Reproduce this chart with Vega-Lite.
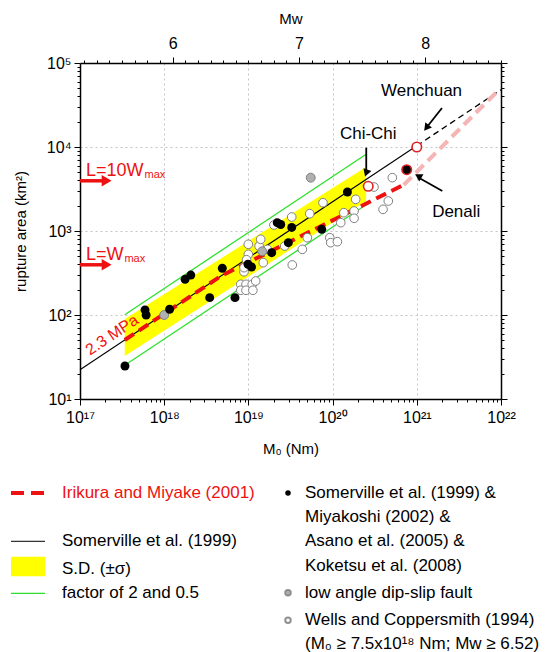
{
"$schema": "https://vega.github.io/schema/vega-lite/v6.json",
"background": "white",
"padding": {"left": 3, "top": 11, "right": 5, "bottom": 0},
"spacing": 23,
"config": {
  "font": "Liberation Sans",
  "view": {"stroke": null},
  "axis": {"labelFont": "Liberation Sans", "titleFont": "Liberation Sans", "labelColor": "black", "titleColor": "black", "domainColor": "black", "domainWidth": 1.5, "tickColor": "black", "tickWidth": 1, "titleFontWeight": "normal", "labelFontSize": 16, "titleFontSize": 15, "grid": false, "labelOverlap": false, "labelFlush": false}
},
"datasets": {
  "pts": [
    {"g":"o","m0":8.11e18,"area":232},{"g":"o","m0":9.36e18,"area":232},{"g":"o","m0":1.11e19,"area":232},
    {"g":"o","m0":8.11e18,"area":197},{"g":"o","m0":9.36e18,"area":197},{"g":"o","m0":1.13e19,"area":197},
    {"g":"o","m0":8.87e18,"area":327},{"g":"o","m0":9.98e18,"area":695},{"g":"o","m0":1.34e19,"area":662},
    {"g":"o","m0":1.40e19,"area":796},{"g":"o","m0":9.98e18,"area":528},{"g":"o","m0":1.50e19,"area":420},
    {"g":"o","m0":1.68e19,"area":605},{"g":"o","m0":1.22e19,"area":254},{"g":"o","m0":3.32e19,"area":394},
    {"g":"o","m0":4.37e19,"area":605},{"g":"o","m0":2.70e19,"area":662},{"g":"o","m0":5.01e19,"area":832},
    {"g":"o","m0":9.25e19,"area":832},{"g":"o","m0":9.49e19,"area":726},{"g":"o","m0":1.14e20,"area":746},
    {"g":"o","m0":7.69e19,"area":2173},{"g":"o","m0":5.35e19,"area":1607},{"g":"o","m0":3.27e19,"area":1468},
    {"g":"o","m0":2.01e19,"area":1179},{"g":"o","m0":1.88e20,"area":2382},{"g":"o","m0":1.36e20,"area":1651},
    {"g":"o","m0":1.80e20,"area":1730},{"g":"o","m0":1.80e20,"area":1416},{"g":"o","m0":1.25e20,"area":1256},
    {"g":"o","m0":5.12e20,"area":4315},{"g":"o","m0":3.97e20,"area":1811},{"g":"o","m0":4.59e20,"area":2275},
    {"g":"o","m0":3.10e20,"area":3340},{"g":"o","m0":9.5e18,"area":455},{"g":"o","m0":8.87e18,"area":366},
    {"g":"g","m0":1.0e18,"area":100},{"g":"g","m0":1.46e19,"area":573},{"g":"g","m0":5.5e19,"area":4315},
    {"g":"b","m0":3.42e17,"area":24.7},{"g":"b","m0":5.92e17,"area":115},{"g":"b","m0":6.1e17,"area":100},
    {"g":"b","m0":1.16e18,"area":117},{"g":"b","m0":1.77e18,"area":266},{"g":"b","m0":2.07e18,"area":299},
    {"g":"b","m0":3.47e18,"area":161},{"g":"b","m0":4.9e18,"area":360},{"g":"b","m0":6.93e18,"area":161},
    {"g":"b","m0":9.89e18,"area":402},{"g":"b","m0":1.09e19,"area":373},{"g":"b","m0":1.89e19,"area":552},
    {"g":"b","m0":2.2e19,"area":1256},{"g":"b","m0":2.42e19,"area":1194},{"g":"b","m0":2.98e19,"area":726},
    {"g":"b","m0":3.27e19,"area":1102},{"g":"b","m0":7.43e19,"area":1047},{"g":"b","m0":1.5e20,"area":2912},
    {"g":"chichi","m0":2.65e20,"area":3404},{"g":"wen","m0":1.0e21,"area":10000},{"g":"den","m0":7.59e20,"area":5370}
  ],
  "lines": [
    {"s":"som","m0":1e17,"area":22.3},{"s":"som","m0":1e21,"area":10351},
    {"s":"somdash","m0":1e21,"area":10351},{"s":"somdash","m0":1e22,"area":48040},
    {"s":"iri","m0":3.4e17,"area":50.4},{"s":"iri","m0":4.72e18,"area":291},{"s":"iri","m0":7e20,"area":3547},
    {"s":"iri3","m0":7e20,"area":3547},{"s":"iri3","m0":9e21,"area":45600},
    {"s":"g2","m0":3.4e17,"area":100.8},{"s":"g2","m0":2.5e20,"area":8216},
    {"s":"g05","m0":3.4e17,"area":25.2},{"s":"g05","m0":2.5e20,"area":2054}
  ],
  "band": [{"m0":3.4e17,"hi":89.5,"lo":32.5},{"m0":2.5e20,"hi":5781,"lo":2275}],
  "arr": [
    {"t":"Wenchuan","m0":1.99e21,"area":29100,"hm0":1.30e21,"harea":16940},
    {"t":"Chi-Chi","m0":2.51e20,"area":9817,"hm0":2.51e20,"harea":4898},
    {"t":"Denali","m0":2.01e21,"area":2992,"hm0":1.07e21,"harea":4276}
  ],
  "lab": [
    {"t":"Wenchuan","m0":1.14e21,"area":40460},
    {"t":"Chi-Chi","m0":2.65e20,"area":12450},
    {"t":"Denali","m0":2.94e21,"area":1469}
  ],
  "rarr": [{"m0":1e17,"m0b":1.86e17,"m0h":2.07e17,"area":3960},{"m0":1e17,"m0b":1.86e17,"m0h":2.07e17,"area":396}],
  "rlab": [{"t":"L=10W","m0":1.18e17,"area":4520},{"t":"L=W","m0":1.18e17,"area":446}],
  "rsub": [{"t":"max","m0":5.83e17,"area":4276},{"t":"max","m0":3.37e17,"area":428}],
  "mpa": [{"t":"2.3 MPa","m0":2.4e17,"area":57.8}],
  "mwaxis": [{"mw":5.5,"area":100},{"mw":8.5,"area":1000}],
  "leg": [
    {"k":"red","lx":12,"ly":0},{"k":"red","lx":46,"ly":0},
    {"k":"blk","lx":12,"ly":1.98},{"k":"blk","lx":46,"ly":1.98},
    {"k":"grn","lx":12,"ly":4.1},{"k":"grn","lx":46,"ly":4.1},
    {"k":"yel","lx":12,"lx2":46,"ly":2.6,"ly2":3.4},
    {"k":"dotb","lx":289,"ly":0},
    {"k":"dotg","lx":289,"ly":4.07},
    {"k":"doto","lx":289,"ly":5.2},
    {"k":"txt","lx":63,"ly":0,"t":"Irikura and Miyake (2001)"},
    {"k":"txt","lx":63,"ly":1.98,"t":"Somerville et al. (1999)"},
    {"k":"txt","lx":63,"ly":3.1,"t":"S.D. (±σ)"},
    {"k":"txt","lx":63,"ly":4.1,"t":"factor of 2 and 0.5"},
    {"k":"txt","lx":306,"ly":0,"t":"Somerville et al. (1999) &"},
    {"k":"txt","lx":306,"ly":0.99,"t":"Miyakoshi (2002) &"},
    {"k":"txt","lx":306,"ly":1.98,"t":"Asano et al. (2005) &"},
    {"k":"txt","lx":306,"ly":2.98,"t":"Koketsu et al. (2008)"},
    {"k":"txt","lx":306,"ly":4.07,"t":"low angle dip-slip fault"},
    {"k":"txt","lx":306,"ly":5.2,"t":"Wells and Coppersmith (1994)"},
    {"k":"txt","lx":306,"ly":6.15,"t":"(M₀ ≥ 7.5x10¹⁸ Nm; Mw ≥ 6.52)"}
  ]
},
"vconcat": [
  {
    "width": 421,
    "height": 336,
    "resolve": {"scale": {"x": "independent", "y": "independent"}},
    "layer": [
      {
        "encoding": {
          "x": {"field": "m0", "type": "quantitative",
            "scale": {"type": "log", "domain": [1e17, 1e22], "nice": false},
            "axis": {"orient": "bottom", "title": "M₀ (Nm)", "titlePadding": 16, "labelPadding": 4,
              "values": [1e17,2e17,3e17,4e17,5e17,6e17,7e17,8e17,9e17,1e18,2e18,3e18,4e18,5e18,6e18,7e18,8e18,9e18,1e19,2e19,3e19,4e19,5e19,6e19,7e19,8e19,9e19,1e20,2e20,3e20,4e20,5e20,6e20,7e20,8e20,9e20,1e21,2e21,3e21,4e21,5e21,6e21,7e21,8e21,9e21,1e22],
              "labelExpr": "datum.value == 1e17 ? '10¹⁷' : datum.value == 1e18 ? '10¹⁸' : datum.value == 1e19 ? '10¹⁹' : datum.value == 1e20 ? '10²⁰' : datum.value == 1e21 ? '10²¹' : datum.value == 1e22 ? '10²²' : ''",
              "tickSize": {"condition": {"test": "indexof([1e17,1e18,1e19,1e20,1e21,1e22], datum.value) >= 0", "value": 6}, "value": 3},
              "grid": true, "gridDash": [2, 3], "gridColor": "#c4c4c4",
              "gridOpacity": {"condition": {"test": "indexof([1e18,1e19,1e20,1e21], datum.value) >= 0", "value": 1}, "value": 0}
            }
          },
          "y": {"field": "area", "type": "quantitative",
            "scale": {"type": "log", "domain": [10, 100000], "nice": false},
            "axis": {"orient": "left", "title": "rupture area (km²)", "titlePadding": 18, "labelPadding": 3,
              "values": [10,20,30,40,50,60,70,80,90,100,200,300,400,500,600,700,800,900,1000,2000,3000,4000,5000,6000,7000,8000,9000,10000,20000,30000,40000,50000,60000,70000,80000,90000,100000],
              "labelExpr": "datum.value == 10 ? '10¹' : datum.value == 100 ? '10²' : datum.value == 1000 ? '10³' : datum.value == 10000 ? '10⁴' : datum.value == 100000 ? '10⁵' : ''",
              "tickSize": {"condition": {"test": "indexof([10,100,1000,10000,100000], datum.value) >= 0", "value": 6}, "value": 3},
              "grid": true, "gridDash": [2, 3], "gridColor": "#c4c4c4",
              "gridOpacity": {"condition": {"test": "indexof([100,1000,10000], datum.value) >= 0", "value": 1}, "value": 0}
            }
          }
        },
        "layer": [
          {"data": {"name": "band"}, "mark": {"type": "area", "color": "#ffff00", "opacity": 1},
           "encoding": {"y": {"field": "hi", "type": "quantitative"}, "y2": {"field": "lo"}}},
          {"data": {"name": "lines"}, "transform": [{"filter": "datum.s == 'g2' || datum.s == 'g05'"}],
           "mark": {"type": "line", "color": "#2ee02e", "strokeWidth": 1.3}, "encoding": {"detail": {"field": "s"}}},
          {"data": {"name": "lines"}, "transform": [{"filter": "datum.s == 'som'"}],
           "mark": {"type": "line", "color": "black", "strokeWidth": 1.1}, "encoding": {}},
          {"data": {"name": "lines"}, "transform": [{"filter": "datum.s == 'somdash'"}],
           "mark": {"type": "line", "color": "black", "strokeWidth": 1.3, "strokeDash": [6, 4]}, "encoding": {}},
          {"data": {"name": "lines"}, "transform": [{"filter": "datum.s == 'iri3'"}],
           "mark": {"type": "line", "color": "#f5b5b5", "strokeWidth": 4, "strokeDash": [11, 6]}, "encoding": {}},
          {"data": {"name": "lines"}, "transform": [{"filter": "datum.s == 'iri'"}],
           "mark": {"type": "line", "color": "#ee1111", "strokeWidth": 4, "strokeDash": [11, 6]}, "encoding": {}},
          {"data": {"name": "pts"}, "transform": [{"filter": "datum.g == 'o'"}],
           "mark": {"type": "point", "shape": "circle", "filled": true, "fill": "white", "stroke": "#808080", "strokeWidth": 1, "size": 75, "opacity": 1}},
          {"data": {"name": "pts"}, "transform": [{"filter": "datum.g == 'g'"}],
           "mark": {"type": "point", "shape": "circle", "filled": true, "fill": "#b0b0b0", "stroke": "#808080", "strokeWidth": 1, "size": 80, "opacity": 1}},
          {"data": {"name": "pts"}, "transform": [{"filter": "datum.g == 'b'"}],
           "mark": {"type": "circle", "color": "black", "size": 80, "opacity": 1}},
          {"data": {"name": "pts"}, "transform": [{"filter": "datum.g == 'chichi' || datum.g == 'wen'"}],
           "mark": {"type": "point", "shape": "circle", "filled": true, "fill": "white", "stroke": "#e02020", "strokeWidth": 1.6, "size": 90, "opacity": 1}},
          {"data": {"name": "pts"}, "transform": [{"filter": "datum.g == 'den'"}],
           "mark": {"type": "point", "shape": "circle", "filled": true, "fill": "black", "stroke": "#e02020", "strokeWidth": 1.6, "size": 90, "opacity": 1}},
          {"data": {"name": "arr"}, "mark": {"type": "rule", "color": "black", "strokeWidth": 1.8},
           "encoding": {"x2": {"field": "hm0"}, "y2": {"field": "harea"}}},
          {"data": {"name": "arr"}, "mark": {"type": "point", "shape": "triangle-up", "filled": true, "color": "black", "size": 70, "opacity": 1},
           "encoding": {"x": {"field": "hm0", "type": "quantitative"}, "y": {"field": "harea", "type": "quantitative"},
             "angle": {"field": "t", "type": "nominal", "scale": {"domain": ["Wenchuan", "Chi-Chi", "Denali"], "range": [218, 180, 300]}, "legend": null}}},
          {"data": {"name": "rarr"}, "mark": {"type": "rule", "color": "#ee1111", "strokeWidth": 3.5},
           "encoding": {"x2": {"field": "m0b"}}},
          {"data": {"name": "rarr"}, "mark": {"type": "point", "shape": "triangle-right", "filled": true, "color": "#ee1111", "size": 130, "opacity": 1},
           "encoding": {"x": {"field": "m0h", "type": "quantitative"}}},
          {"data": {"name": "lab"}, "mark": {"type": "text", "fontSize": 17, "align": "center", "baseline": "alphabetic", "color": "black"},
           "encoding": {"text": {"field": "t"}}},
          {"data": {"name": "rlab"}, "mark": {"type": "text", "fontSize": 18, "align": "left", "baseline": "alphabetic", "color": "#ee1111"},
           "encoding": {"text": {"field": "t"}}},
          {"data": {"name": "rsub"}, "mark": {"type": "text", "fontSize": 11, "align": "left", "baseline": "alphabetic", "color": "#ee1111"},
           "encoding": {"text": {"field": "t"}}},
          {"data": {"name": "mpa"}, "mark": {"type": "text", "fontSize": 16, "align": "center", "baseline": "middle", "angle": -33.7, "color": "#ee1111"},
           "encoding": {"text": {"field": "t"}}}
        ]
      },
      {
        "data": {"name": "mwaxis"},
        "mark": {"type": "point", "opacity": 0},
        "encoding": {
          "x": {"field": "mw", "type": "quantitative",
            "scale": {"domain": [5.266667, 8.6], "nice": false, "zero": false},
            "axis": {"orient": "top", "title": "Mw", "titlePadding": 9, "labelPadding": 6,
              "values": [5.3,5.4,5.5,5.6,5.7,5.8,5.9,6,6.1,6.2,6.3,6.4,6.5,6.6,6.7,6.8,6.9,7,7.1,7.2,7.3,7.4,7.5,7.6,7.7,7.8,7.9,8,8.1,8.2,8.3,8.4,8.5,8.6],
              "labelExpr": "datum.value == 6 ? '6' : datum.value == 7 ? '7' : datum.value == 8 ? '8' : ''",
              "tickSize": {"condition": {"test": "datum.value == 6 || datum.value == 7 || datum.value == 8", "value": 6}, "value": 3},
              "grid": false}
          },
          "y": {"field": "area", "type": "quantitative",
            "scale": {"type": "log", "domain": [10, 100000], "nice": false},
            "axis": {"orient": "right", "title": null, "labels": false, "grid": false,
              "values": [10,20,30,40,50,60,70,80,90,100,200,300,400,500,600,700,800,900,1000,2000,3000,4000,5000,6000,7000,8000,9000,10000,20000,30000,40000,50000,60000,70000,80000,90000,100000],
              "tickSize": {"condition": {"test": "indexof([10,100,1000,10000,100000], datum.value) >= 0", "value": 6}, "value": 3}}
          }
        }
      }
    ]
  },
  {
    "width": 421,
    "height": 170,
    "data": {"name": "leg"},
    "encoding": {
      "x": {"field": "lx", "type": "quantitative", "scale": {"domain": [81, 502], "nice": false, "zero": false}, "axis": null},
      "y": {"field": "ly", "type": "quantitative", "scale": {"domain": [-0.57, 6.37], "nice": false, "zero": false, "reverse": true}, "axis": null}
    },
    "layer": [
      {"transform": [{"filter": "datum.k == 'red'"}], "mark": {"type": "line", "color": "#ee1111", "strokeWidth": 4, "strokeDash": [13, 7]}, "encoding": {}},
      {"transform": [{"filter": "datum.k == 'blk'"}], "mark": {"type": "line", "color": "#333333", "strokeWidth": 1.2}, "encoding": {}},
      {"transform": [{"filter": "datum.k == 'grn'"}], "mark": {"type": "line", "color": "#2ee02e", "strokeWidth": 1.4}, "encoding": {}},
      {"transform": [{"filter": "datum.k == 'yel'"}], "mark": {"type": "rect", "color": "#ffff00"},
       "encoding": {"x2": {"field": "lx2"}, "y2": {"field": "ly2"}}},
      {"transform": [{"filter": "datum.k == 'dotb'"}], "mark": {"type": "circle", "color": "black", "size": 30, "opacity": 1}},
      {"transform": [{"filter": "datum.k == 'dotg'"}], "mark": {"type": "point", "shape": "circle", "filled": true, "fill": "#b0b0b0", "stroke": "#909090", "size": 30, "opacity": 1}},
      {"transform": [{"filter": "datum.k == 'doto'"}], "mark": {"type": "point", "shape": "circle", "filled": true, "fill": "white", "stroke": "#909090", "size": 30, "opacity": 1}},
      {"transform": [{"filter": "datum.k == 'txt'"}], "mark": {"type": "text", "align": "left", "baseline": "middle", "fontSize": 17},
       "encoding": {"text": {"field": "t"},
         "color": {"condition": {"test": "datum.t == 'Irikura and Miyake (2001)'", "value": "#ee1111"}, "value": "black"}}}
    ]
  }
]
}
